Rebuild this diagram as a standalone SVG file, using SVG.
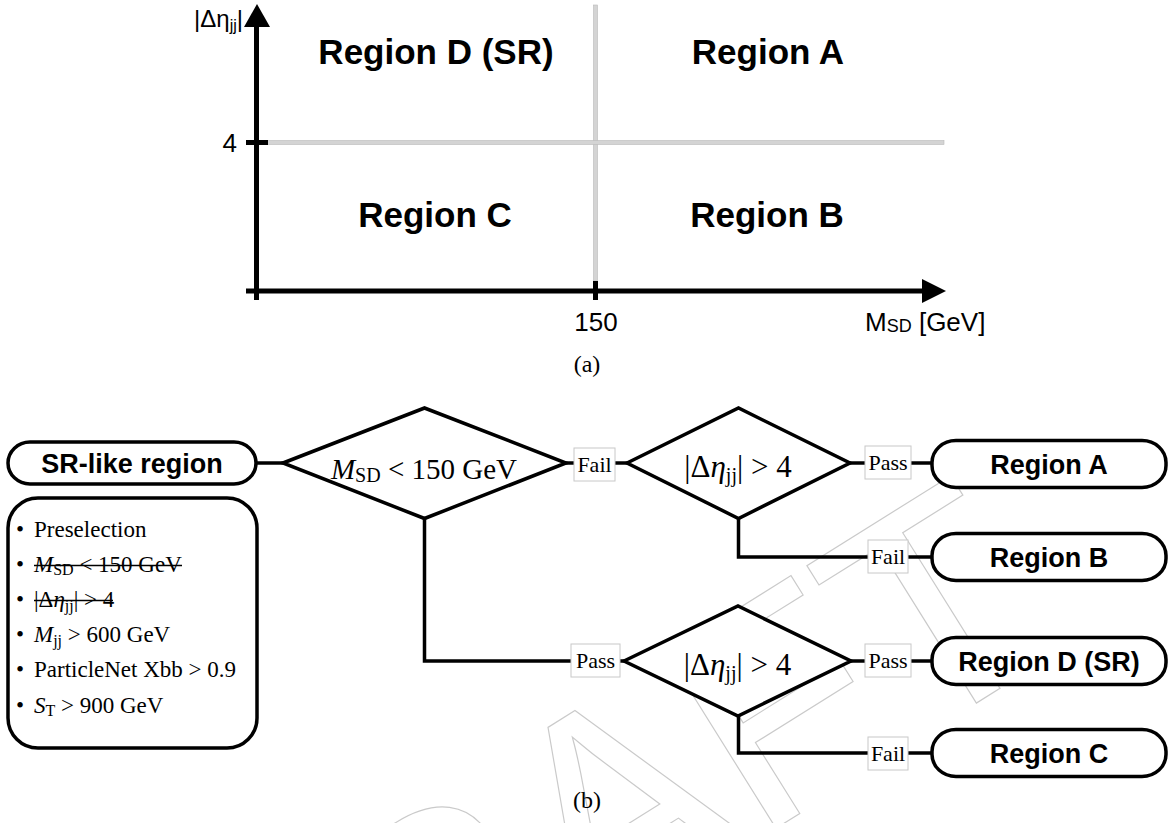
<svg xmlns="http://www.w3.org/2000/svg" width="1170" height="823" viewBox="0 0 1170 823">
<style>
.sans{font-family:"Liberation Sans",Arial,sans-serif}
.serif{font-family:"Liberation Serif","Times New Roman",serif}
.node{fill:#fff;stroke:#000;stroke-width:3.5}
.conn{fill:none;stroke:#000;stroke-width:3.5}
.lbl{fill:#fff;stroke:#c8c8c8;stroke-width:1}
.axis{stroke:#000;stroke-width:5;fill:none}
.grid{fill:#d4d4d4;stroke:#b9b9b9;stroke-width:0.6}
.reg{font-size:35px;font-weight:bold;text-anchor:middle}
.box{font-size:27px;font-weight:bold;text-anchor:middle}
.pf{font-size:22px;text-anchor:middle}
.bl{font-size:23px}
.strike{stroke:#000;stroke-width:1.3}
</style>
<rect x="0" y="0" width="1170" height="823" fill="#fff"/>
<text class="sans" transform="translate(218,1177) rotate(-32)" font-size="300" fill="none" stroke="#cacaca" stroke-width="1.2">DRAFT</text>

<g id="plot-a">
  <rect class="grid" x="593.5" y="5" width="4" height="276"/>
  <rect class="grid" x="267" y="140.5" width="677" height="4"/>
  <line class="axis" x1="256.5" y1="300" x2="256.5" y2="25"/>
  <polygon points="257,4 244,27 270,27" fill="#000"/>
  <line class="axis" x1="246" y1="291" x2="925" y2="291"/>
  <polygon points="946,291 922,279 922,303" fill="#000"/>
  <line class="axis" x1="246" y1="142.5" x2="268" y2="142.5"/>
  <line class="axis" x1="595.5" y1="281" x2="595.5" y2="300"/>
  <text class="sans" x="243" y="27" font-size="24" text-anchor="end">|Δη<tspan font-size="16" dy="4">jj</tspan><tspan dy="-4">|</tspan></text>
  <text class="sans" x="237" y="152" font-size="26" text-anchor="end">4</text>
  <text class="sans" x="596" y="331" font-size="26" text-anchor="middle">150</text>
  <text class="sans" x="865" y="331" font-size="26">M<tspan font-size="18" dy="1">SD</tspan><tspan dy="-1"> [GeV]</tspan></text>
  <text class="sans reg" x="436" y="64">Region D (SR)</text>
  <text class="sans reg" x="768" y="64">Region A</text>
  <text class="sans reg" x="435" y="227">Region C</text>
  <text class="sans reg" x="767" y="227">Region B</text>
  <text class="serif" x="587" y="372" font-size="24" text-anchor="middle">(a)</text>
</g>

<g id="connectors">
  <line class="conn" x1="256" y1="463" x2="284" y2="463"/>
  <line class="conn" x1="565" y1="463" x2="574" y2="463"/>
  <line class="conn" x1="615" y1="463" x2="628" y2="463"/>
  <line class="conn" x1="850" y1="463" x2="865" y2="463"/>
  <line class="conn" x1="911" y1="463" x2="933" y2="463"/>
  <polyline class="conn" points="738.5,518 738.5,557 868,557"/>
  <line class="conn" x1="908" y1="557" x2="933" y2="557"/>
  <polyline class="conn" points="424.5,518 424.5,661 571,661"/>
  <line class="conn" x1="620" y1="661" x2="625" y2="661"/>
  <line class="conn" x1="851" y1="661" x2="865" y2="661"/>
  <line class="conn" x1="911" y1="661" x2="933" y2="661"/>
  <polyline class="conn" points="738.5,716 738.5,753 868,753"/>
  <line class="conn" x1="908" y1="753" x2="933" y2="753"/>
</g>

<g id="node-srlike">
  <rect class="node" x="8" y="442" width="248" height="42" rx="22" ry="21"/>
  <text class="sans box" x="132" y="473">SR-like region</text>
</g>

<g id="node-cuts">
  <rect class="node" x="8" y="498" width="249" height="250" rx="30" ry="30"/>
  <text class="serif bl" x="16" y="537">•<tspan x="34">Preselection</tspan></text>
  <text class="serif bl" x="16" y="572">•<tspan x="34" font-style="italic">M</tspan><tspan font-size="16" dy="3">SD</tspan><tspan dy="-3"> &lt; 150 GeV</tspan></text>
  <line class="strike" x1="34" y1="565.5" x2="182" y2="565.5"/>
  <text class="serif bl" x="16" y="607">•<tspan x="34">|Δ</tspan><tspan font-style="italic">η</tspan><tspan font-size="16" dy="4">jj</tspan><tspan dy="-4">| &gt; 4</tspan></text>
  <line class="strike" x1="34" y1="600.5" x2="113" y2="600.5"/>
  <text class="serif bl" x="16" y="642">•<tspan x="34" font-style="italic">M</tspan><tspan font-size="16" dy="4">jj</tspan><tspan dy="-4"> &gt; 600 GeV</tspan></text>
  <text class="serif bl" x="16" y="677">•<tspan x="34">ParticleNet Xbb &gt; 0.9</tspan></text>
  <text class="serif bl" x="16" y="713">•<tspan x="34" font-style="italic">S</tspan><tspan font-size="16" dy="3">T</tspan><tspan dy="-3"> &gt; 900 GeV</tspan></text>
</g>

<g id="node-msd">
  <polygon class="node" points="283,463 424.5,408 566,463 424.5,518.5"/>
  <text class="serif" x="424" y="479" font-size="29" text-anchor="middle"><tspan font-style="italic">M</tspan><tspan font-size="20" dy="3">SD</tspan><tspan dy="-3"> &lt; 150 GeV</tspan></text>
</g>

<g id="node-deta-top">
  <polygon class="node" points="627,463 738.5,408 850,463 738.5,518.5"/>
  <text class="serif" x="738" y="477" font-size="31" text-anchor="middle">|Δ<tspan font-style="italic">η</tspan><tspan font-size="20" dy="5">jj</tspan><tspan dy="-5">| &gt; 4</tspan></text>
</g>

<g id="node-deta-bottom">
  <polygon class="node" points="624,661 738,606 851,661 738,716"/>
  <text class="serif" x="737.5" y="675" font-size="31" text-anchor="middle">|Δ<tspan font-style="italic">η</tspan><tspan font-size="20" dy="5">jj</tspan><tspan dy="-5">| &gt; 4</tspan></text>
</g>

<g id="label-fail-1">
  <rect class="lbl" x="574" y="448" width="41" height="33"/>
  <text class="serif pf" x="594.5" y="472">Fail</text>
</g>
<g id="label-pass-a">
  <rect class="lbl" x="865" y="446" width="46" height="33"/>
  <text class="serif pf" x="888" y="470">Pass</text>
</g>
<g id="label-fail-b">
  <rect class="lbl" x="868" y="540" width="40" height="33"/>
  <text class="serif pf" x="888" y="564">Fail</text>
</g>
<g id="label-pass-2">
  <rect class="lbl" x="571" y="644" width="49" height="33"/>
  <text class="serif pf" x="595.5" y="668">Pass</text>
</g>
<g id="label-pass-d">
  <rect class="lbl" x="865" y="644" width="46" height="33"/>
  <text class="serif pf" x="888" y="668">Pass</text>
</g>
<g id="label-fail-c">
  <rect class="lbl" x="868" y="737" width="40" height="33"/>
  <text class="serif pf" x="888" y="761">Fail</text>
</g>

<g id="node-region-a">
  <rect class="node" x="932" y="440.5" width="234" height="47" rx="24" ry="22"/>
  <text class="sans box" x="1049" y="474">Region A</text>
</g>
<g id="node-region-b">
  <rect class="node" x="932" y="533.5" width="234" height="47" rx="24" ry="22"/>
  <text class="sans box" x="1049" y="567">Region B</text>
</g>
<g id="node-region-d">
  <rect class="node" x="932" y="637.5" width="234" height="47" rx="24" ry="22"/>
  <text class="sans box" x="1049" y="671">Region D (SR)</text>
</g>
<g id="node-region-c">
  <rect class="node" x="932" y="729.5" width="234" height="47" rx="24" ry="22"/>
  <text class="sans box" x="1049" y="763">Region C</text>
</g>

<text class="serif" x="587" y="808" font-size="24" text-anchor="middle">(b)</text>
</svg>
